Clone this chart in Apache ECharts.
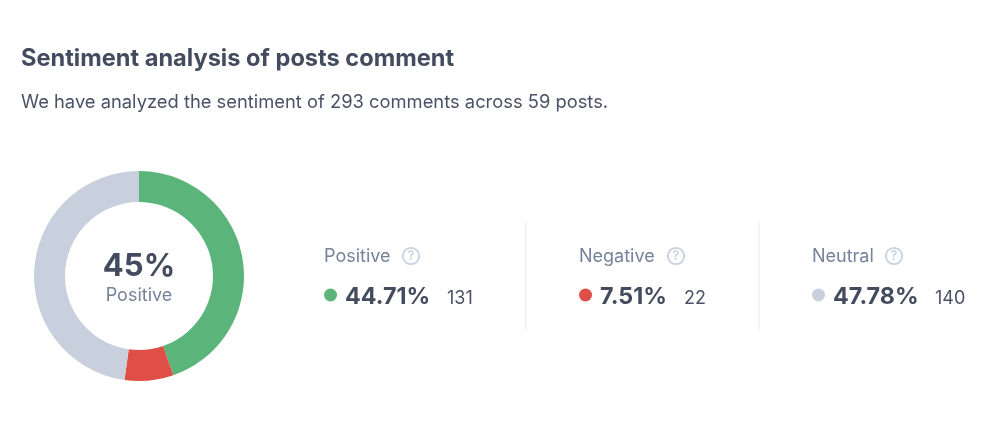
<!DOCTYPE html>
<html><head><meta charset="utf-8">
<style>html,body{margin:0;padding:0;background:#fff}#c{width:1000px;height:433px}</style>
<script src="https://cdn.jsdelivr.net/npm/echarts@6/dist/echarts.min.js"></script>
</head><body><div id="c"></div>
<script>
const categories = ['Positive','Negative','Neutral'];
const counts = [131,22,140];
const percents = ['44.71%','7.51%','47.78%'];
const colors = ['#5BB47A','#E04F47','#C8D0DD'];
const chartTitle = 'Sentiment analysis of posts comment';
const chartSubtitle = 'We have analyzed the sentiment of 293 comments across 59 posts.';
const centerValue = '45%';
const centerLabel = 'Positive';
const FONT = 'Inter';
const labelX = [324,579,812];
const helpX = [411,676,894];
const pctX = [345,600,833];
const countX = [447,684,935];
const dividerX = [525.5,759];
const g = [];
const text = (x,y,t,size,weight,fill,align) => ({type:'text',x,y,silent:true,style:{text:t,font:`${weight} ${size}px ${FONT}`,fill,align:align||'left',verticalAlign:'middle'}});
g.push(text(21,59,chartTitle,23.6,700,'#434B5E'));
g.push(text(21,102,chartSubtitle,18.35,400,'#4A5266'));
g.push(text(139,266.5,centerValue,31,700,'#434B5E','center'));
g.push(text(139,296,centerLabel,18,400,'#75829A','center'));
categories.forEach((c,i)=>{
  g.push(text(labelX[i],256.5,c,18,400,'#75829A'));
  g.push({type:'circle',silent:true,shape:{cx:helpX[i],cy:256,r:8.2},style:{fill:'none',stroke:'#C5D2E2',lineWidth:1.8}});
  g.push(text(helpX[i],256.5,'?',12.5,600,'#C5D2E2','center'));
  g.push({type:'circle',silent:true,shape:{cx:labelX[i]+6.5,cy:295,r:6.5},style:{fill:colors[i]}});
  g.push(text(pctX[i],297,percents[i],23.3,700,'#434B5E'));
  g.push(text(countX[i],298.5,String(counts[i]),18,400,'#4A5266'));
});
dividerX.forEach(x=>g.push({type:'line',silent:true,shape:{x1:x,y1:222,x2:x,y2:330},style:{stroke:'#E9ECF0',lineWidth:1}}));
const chart = echarts.init(document.getElementById('c'),null,{renderer:'canvas'});
chart.setOption({
  animation:false,
  backgroundColor:'#fff',
  color:colors,
  series:[{type:'pie',center:[139,276],radius:[74,105],startAngle:90,clockwise:true,
    label:{show:false},labelLine:{show:false},silent:true,
    data:categories.map((c,i)=>({name:c,value:counts[i]}))}],
  graphic:g
});
</script></body></html>
